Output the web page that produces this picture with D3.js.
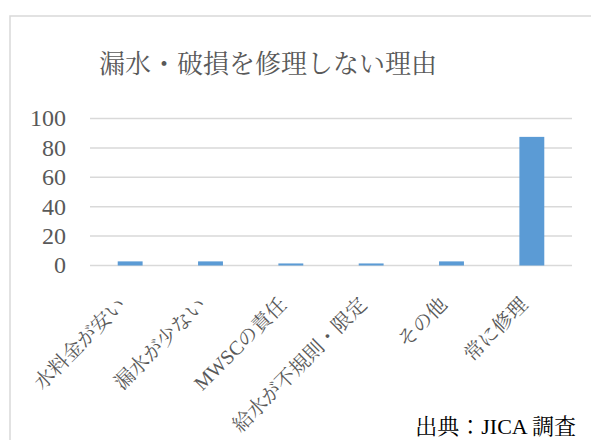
<!DOCTYPE html>
<html>
<head>
<meta charset="utf-8">
<script src="https://cdn.jsdelivr.net/npm/d3@7"></script>
<style>
  html, body { margin: 0; padding: 0; background: #fff; }
  svg { display: block; }
</style>
</head>
<body>
<svg id="chart" width="591" height="440"></svg>
<script>
const title = "漏水・破損を修理しない理由";
const categories = ["水料金が安い", "漏水が少ない", "MWSCの責任", "給水が不規則・限定", "その他", "常に修理"];
const values = [2.8, 2.8, 1.4, 1.4, 2.8, 87.5];
const yTicks = [0, 20, 40, 60, 80, 100];
const sourceText = "出典：JICA 調査";

const serif = "'Liberation Serif', 'Noto Serif CJK JP', 'Noto Sans CJK JP', serif";
const svg = d3.select("#chart");

// chart frame (extends beyond the right/bottom edges)
svg.append("rect")
  .attr("x", 10).attr("y", 16)
  .attr("width", 620).attr("height", 460)
  .attr("fill", "#fff")
  .attr("stroke", "#d9d9d9").attr("stroke-width", 1.5);

const x = d3.scaleBand().domain(categories).range([90, 572]).paddingInner(0.69).paddingOuter(0.345);
const y = d3.scaleLinear().domain([0, 100]).range([265.5, 118.5]);

// gridlines
svg.append("g").selectAll("line").data(yTicks).join("line")
  .attr("x1", 90).attr("x2", 572)
  .attr("y1", d => y(d)).attr("y2", d => y(d))
  .attr("stroke", "#d9d9d9").attr("stroke-width", 1.5);

// y tick labels
svg.append("g").selectAll("text").data(yTicks).join("text")
  .attr("x", 66).attr("y", d => y(d))
  .attr("dy", "0.33em")
  .attr("text-anchor", "end")
  .attr("font-family", serif).attr("font-size", 24)
  .attr("fill", "#595959")
  .text(d => d);

// bars
svg.append("g").selectAll("rect").data(values).join("rect")
  .attr("x", (d, i) => x(categories[i]))
  .attr("width", x.bandwidth())
  .attr("y", d => y(d))
  .attr("height", d => y(0) - y(d))
  .attr("fill", "#5b9bd5");

// category labels
svg.append("g").selectAll("text").data(categories).join("text")
  .attr("transform", d => `translate(${x(d) + x.bandwidth() / 2 - 8},301) rotate(-45)`)
  .attr("text-anchor", "end")
  .attr("dominant-baseline", "central")
  .attr("font-family", serif).attr("font-size", 20)
  .attr("fill", "#595959")
  .text(d => d);

// title
svg.append("text")
  .attr("x", 268).attr("y", 73)
  .attr("text-anchor", "middle")
  .attr("font-family", serif).attr("font-size", 26)
  .attr("fill", "#595959")
  .text(title);

// source
svg.append("text")
  .attr("x", 576).attr("y", 434)
  .attr("text-anchor", "end")
  .attr("font-family", serif).attr("font-size", 22)
  .attr("fill", "#000")
  .text(sourceText);
</script>
</body>
</html>
